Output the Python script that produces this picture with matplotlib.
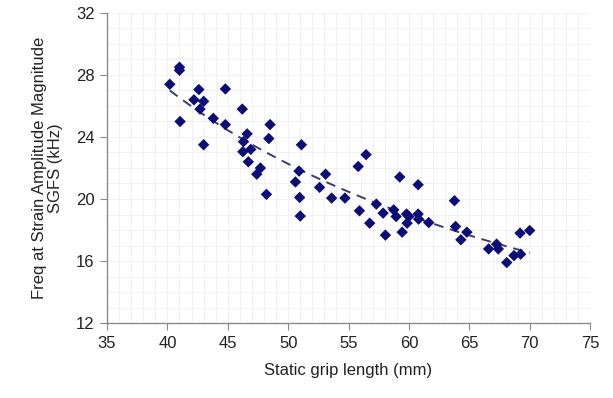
import numpy as np
import matplotlib
matplotlib.use('Agg')
import matplotlib.pyplot as plt
from matplotlib.ticker import MultipleLocator

plt.rcParams['font.family'] = ['Liberation Sans', 'DejaVu Sans']

# static grip length (mm) vs frequency at strain amplitude magnitude (kHz)
grip_len = [40.2, 41.0, 41.0, 41.05, 42.6, 42.2, 43.0, 42.7, 43.0, 43.8,
            44.8, 44.8, 46.2, 46.6, 46.3, 46.25, 46.9, 46.7, 47.7, 47.4,
            48.5, 48.4, 48.2, 51.1, 50.9, 50.6, 50.95, 51.0, 52.6, 53.1,
            53.6, 54.7, 55.8, 56.45, 55.9, 56.75, 57.3, 57.86, 58.05, 59.24,
            58.74, 58.94, 59.8, 60.0, 59.85, 59.44, 60.76, 60.76, 60.8, 61.64,
            63.77, 63.86, 64.8, 64.3, 66.6, 67.26, 67.4, 68.1, 68.7, 69.25,
            69.2, 70.0]
freq = [27.4, 28.5, 28.3, 25.0, 27.06, 26.4, 26.3, 25.8, 23.5, 25.2,
        27.1, 24.8, 25.8, 24.2, 23.7, 23.05, 23.2, 22.4, 22.0, 21.6,
        24.8, 23.9, 20.3, 23.5, 21.8, 21.1, 20.1, 18.9, 20.75, 21.6,
        20.06, 20.06, 22.1, 22.86, 19.24, 18.44, 19.67, 19.09, 17.67, 21.42,
        19.3, 18.87, 19.03, 18.87, 18.44, 17.86, 20.92, 19.03, 18.7, 18.48,
        19.89, 18.23, 17.86, 17.37, 16.78, 17.09, 16.78, 15.9, 16.35, 16.44,
        17.8, 17.97]

x = np.array(grip_len)
y = np.array(freq)

# power-law trend line, fitted in log-log space
b, log_a = np.polyfit(np.log(x), np.log(y), 1)
xf = np.linspace(x.min(), x.max(), 100)
yf = np.exp(log_a) * xf ** b

fig = plt.figure(figsize=(6.13, 3.98), dpi=100)
ax = fig.add_axes([0.1746, 0.1884, 0.788, 0.779])

ax.scatter(x, y, marker='D', s=34, color='#0d0d78', edgecolors='none', zorder=3)
ax.plot(xf, yf, '--', color='#3c3c70', lw=1.4, dashes=(5, 3.5), zorder=2)

ax.set_xlim(35, 75)
ax.set_ylim(12, 32)
ax.xaxis.set_major_locator(MultipleLocator(5))
ax.yaxis.set_major_locator(MultipleLocator(4))
ax.xaxis.set_minor_locator(MultipleLocator(1))
ax.yaxis.set_minor_locator(MultipleLocator(1))
ax.grid(which='both', color='#f0f2f4', lw=0.8)
ax.set_axisbelow(True)
ax.tick_params(which='minor', length=0)
ax.tick_params(which='major', direction='out', length=5, color='#8a8a8a',
               labelsize=12, labelcolor='#222222', pad=4)

for s in ['top', 'right']:
    ax.spines[s].set_visible(False)
for s in ['left', 'bottom']:
    ax.spines[s].set_color('#8a8a8a')
    ax.spines[s].set_linewidth(1.0)

ax.set_xlabel('Static grip length (mm)', fontsize=12, color='#222222', labelpad=9)
ax.set_ylabel('Freq at Strain Amplitude Magnitude\nSGFS (kHz)', fontsize=12,
              color='#222222', labelpad=9, linespacing=1.1)

fig.savefig('out.png', dpi=100)
